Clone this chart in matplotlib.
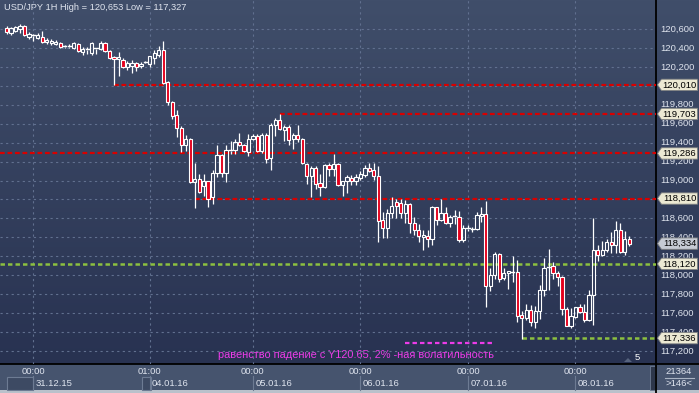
import numpy as np
import matplotlib
matplotlib.use("Agg")
import matplotlib.pyplot as plt
import matplotlib.transforms as mtransforms
from matplotlib.patches import Rectangle, Polygon

plt.rcParams['font.family'] = ['Liberation Sans', 'DejaVu Sans']
plt.rcParams['lines.scale_dashes'] = False

W, H = 699, 393

# hourly candles, USD/JPY
opens = [120.61, 120.56, 120.58, 120.60, 120.63, 120.52, 120.53, 120.51, 120.52, 120.46,
         120.45, 120.445, 120.45, 120.41, 120.415, 120.40, 120.44, 120.36, 120.38, 120.35,
         120.39, 120.39, 120.45, 120.37, 120.30, 120.28, 120.27, 120.20, 120.21, 120.24,
         120.21, 120.25, 120.23, 120.29, 120.33, 120.38, 120.04, 119.83, 119.69, 119.55,
         119.38, 119.44, 118.98, 119.02, 118.94, 118.99, 118.83, 119.08, 119.27, 119.08,
         119.31, 119.32, 119.41, 119.37, 119.30, 119.44, 119.47, 119.31, 119.48, 119.24,
         119.59, 119.64, 119.53, 119.56, 119.44, 119.48, 119.44, 119.17, 119.05, 119.13,
         118.97, 118.93, 119.16, 119.12, 119.17, 118.95, 118.99, 119.03, 118.99, 119.03,
         119.06, 119.13, 119.11, 119.05, 118.58, 118.50, 118.66, 118.77, 118.76, 118.66,
         118.75, 118.55, 118.48, 118.40, 118.41, 118.38, 118.72, 118.58, 118.66, 118.55,
         118.62, 118.61, 118.37, 118.49, 118.49, 118.49, 118.63, 118.65, 117.89, 118.00,
         118.22, 117.97, 118.02, 118.03, 118.03, 117.58, 117.55, 117.63, 117.51, 117.62,
         117.84, 118.09, 118.10, 118.02, 117.98, 117.64, 117.46, 117.56, 117.67, 117.61,
         117.53, 117.79, 118.27, 118.21, 118.27, 118.35, 118.32, 118.48, 118.25, 118.38]
highs = [120.63, 120.62, 120.63, 120.653, 120.64, 120.57, 120.55, 120.56, 120.58, 120.51,
         120.49, 120.48, 120.46, 120.43, 120.44, 120.46, 120.45, 120.41, 120.41, 120.46,
         120.40, 120.47, 120.46, 120.38, 120.31, 120.36, 120.29, 120.26, 120.27, 120.25,
         120.25, 120.26, 120.31, 120.38, 120.42, 120.47, 120.05, 119.84, 119.74, 119.58,
         119.48, 119.45, 119.18, 119.07, 119.07, 119.00, 119.11, 119.37, 119.28, 119.38,
         119.42, 119.44, 119.50, 119.39, 119.49, 119.49, 119.49, 119.50, 119.50, 119.61,
         119.66, 119.703, 119.59, 119.59, 119.50, 119.59, 119.45, 119.19, 119.15, 119.15,
         119.07, 119.17, 119.19, 119.28, 119.18, 119.00, 119.06, 119.06, 119.07, 119.10,
         119.16, 119.19, 119.19, 119.15, 118.67, 118.70, 118.83, 118.81, 118.80, 118.79,
         118.76, 118.62, 118.54, 118.48, 118.48, 118.73, 118.72, 118.80, 118.72, 118.64,
         118.69, 118.68, 118.53, 118.53, 118.51, 118.67, 118.72, 118.78, 118.08, 118.25,
         118.24, 118.08, 118.05, 118.20, 118.16, 117.62, 117.70, 117.69, 117.68, 117.90,
         118.18, 118.28, 118.14, 118.04, 117.99, 117.67, 117.65, 117.66, 117.70, 117.70,
         117.84, 118.60, 118.32, 118.36, 118.38, 118.46, 118.57, 118.55, 118.47, 118.41]
lows = [120.55, 120.54, 120.57, 120.56, 120.53, 120.49, 120.47, 120.49, 120.45, 120.44,
        120.43, 120.43, 120.40, 120.40, 120.40, 120.39, 120.36, 120.33, 120.34, 120.33,
        120.34, 120.38, 120.36, 120.28, 120.01, 120.10, 120.19, 120.17, 120.14, 120.16,
        120.19, 120.24, 120.20, 120.23, 120.30, 120.02, 119.80, 119.65, 119.46, 119.30,
        119.31, 118.97, 118.71, 118.87, 118.84, 118.72, 118.75, 119.04, 119.04, 118.98,
        119.28, 119.28, 119.36, 119.30, 119.26, 119.43, 119.30, 119.29, 119.18, 119.11,
        119.47, 119.53, 119.42, 119.38, 119.33, 119.41, 119.17, 118.96, 118.83, 118.91,
        118.84, 118.92, 119.05, 119.05, 118.94, 118.84, 118.87, 118.95, 118.95, 119.01,
        119.04, 119.09, 119.01, 118.35, 118.39, 118.39, 118.60, 118.60, 118.60, 118.55,
        118.45, 118.42, 118.35, 118.27, 118.30, 118.32, 118.53, 118.57, 118.54, 118.51,
        118.54, 118.35, 118.35, 118.47, 118.46, 118.48, 118.56, 117.67, 117.83, 117.96,
        117.93, 117.95, 117.86, 117.93, 117.51, 117.327, 117.53, 117.46, 117.44, 117.54,
        117.78, 117.84, 117.96, 117.89, 117.58, 117.46, 117.44, 117.55, 117.60, 117.51,
        117.52, 117.48, 118.15, 118.20, 118.25, 118.23, 118.24, 118.23, 118.21, 118.31]
closes = [120.57, 120.61, 120.62, 120.63, 120.54, 120.55, 120.54, 120.54, 120.46, 120.48,
          120.47, 120.46, 120.41, 120.42, 120.42, 120.45, 120.37, 120.39, 120.39, 120.45,
          120.40, 120.45, 120.37, 120.29, 120.28, 120.30, 120.20, 120.24, 120.24, 120.20,
          120.23, 120.25, 120.31, 120.35, 120.38, 120.03, 119.83, 119.68, 119.55, 119.38,
          119.44, 118.98, 119.02, 118.88, 118.99, 118.80, 119.08, 119.27, 119.08, 119.32,
          119.32, 119.41, 119.37, 119.31, 119.44, 119.47, 119.31, 119.48, 119.23, 119.59,
          119.64, 119.54, 119.57, 119.43, 119.48, 119.44, 119.18, 119.05, 119.13, 118.96,
          118.93, 119.16, 119.12, 119.17, 118.95, 118.99, 119.04, 118.99, 119.04, 119.07,
          119.13, 119.10, 119.05, 118.57, 118.50, 118.66, 118.73, 118.73, 118.66, 118.75,
          118.55, 118.48, 118.41, 118.42, 118.38, 118.72, 118.58, 118.66, 118.55, 118.62,
          118.63, 118.37, 118.50, 118.50, 118.49, 118.64, 118.65, 117.89, 118.00, 118.22,
          117.96, 118.02, 118.04, 118.03, 117.57, 117.55, 117.63, 117.51, 117.62, 117.84,
          118.08, 118.09, 118.02, 117.98, 117.64, 117.46, 117.57, 117.66, 117.61, 117.53,
          117.79, 118.27, 118.21, 118.27, 118.35, 118.32, 118.48, 118.25, 118.38, 118.334]

day_idx = [6, 32, 55, 79, 103, 127]
hour_labels = ['00:00', '01:00', '00:00', '00:00', '00:00', '00:00']
date_labels = ['31.12.15', '04.01.16', '05.01.16', '06.01.16', '07.01.16', '08.01.16']

price_ticks = [117.2, 117.4, 117.6, 117.8, 118.0, 118.2, 118.4, 118.6, 118.8,
               119.0, 119.2, 119.4, 119.6, 119.8, 120.0, 120.2, 120.4, 120.6]

levels = [120.010, 119.703, 119.286, 118.810, 118.120, 117.336]
level_start = [24, 61, None, 42, None, 115]
level_kind = ['red', 'red', 'red', 'red', 'green', 'green']
last_price = 118.334

title = 'USD/JPY 1H High = 120,653 Low = 117,327'
note = 'равенство падение с Y120.65, 2% -ная волатильность'

TXT = '#dfe4ee'
RED = '#d80000'
GREEN = '#8cc040'
MAG = '#ec3ce8'
GRID = '#61708f'
FS = 6.8

fig = plt.figure(figsize=(W / 100, H / 100), dpi=100)


def px_axes(x0, y0, x1, y1):
    return fig.add_axes([x0 / W, 1 - y1 / H, (x1 - x0) / W, (y1 - y0) / H])


# background layer in pixel coordinates
bg = px_axes(0, 0, W, H)
bg.set_xlim(0, W)
bg.set_ylim(H, 0)
bg.axis('off')
grad = np.linspace(0, 1, 256)[:, None, None]
top = np.array([64, 78, 106]) / 255
bot = np.array([40, 50, 81]) / 255
img = top * (1 - grad) + bot * grad
bg.imshow(img, extent=(0, W, 364, 0), aspect='auto', zorder=0)
bg.add_patch(Rectangle((0, 364), W, 29, facecolor='#46546e', edgecolor='none', zorder=1))
bg.add_patch(Rectangle((0, 390), W, 3, facecolor='#b9c1cb', edgecolor='none', zorder=2))
for x0, x1 in [(7, 33), (142, 151)]:
    bg.add_patch(Rectangle((x0, 377), x1 - x0, 13, facecolor='#3d4a63',
                           edgecolor='#6d7b93', lw=0.8, zorder=2))
bg.add_patch(Rectangle((650, 366), 5, 24, facecolor='#2d374b', edgecolor='#6d7b93', lw=0.6, zorder=2))
bg.plot([0, W], [364, 364], color='black', lw=1.3, zorder=3)
bg.plot([656, 656], [0, H], color='black', lw=1.3, zorder=3)
bg.plot([665, 694], [378, 378], color='#aab4c4', lw=0.8, zorder=3)
bg.text(679, 371.5, '21364', color=TXT, fontsize=FS, ha='center', va='center', zorder=4)
bg.text(679, 384, '>146<', color=TXT, fontsize=FS, ha='center', va='center', zorder=4)
bg.text(4, 8, title, color=TXT, fontsize=6.7, ha='left', va='center', zorder=4)
bg.text(356, 355, note, color=MAG, fontsize=7.9, ha='center', va='center', zorder=4)
bg.plot([405, 495], [343, 343], color=MAG, lw=1.6, dashes=(3.2, 2.2), zorder=4)
bg.add_patch(Polygon([(624, 362), (628, 358), (632, 362)], closed=True,
                     facecolor='#56637d', edgecolor='none', zorder=4))
bg.text(637, 357, '5', color='white', fontsize=FS, ha='center', va='center', zorder=4)

# main chart
ax = px_axes(0, 0, 656, 364)
ax.patch.set_alpha(0)
ax.set_xlim(-6.5 / 4.48, (656 - 6.5) / 4.48)
ax.set_ylim(117.063, 120.906)
for s in ax.spines.values():
    s.set_visible(False)
ax.set_xticks([])
ax.set_yticks([])

for p in price_ticks:
    ax.axhline(p, color=GRID, lw=0.8, dashes=(1.6, 2.4), zorder=1)
for d in day_idx:
    ax.axvline(d, color=GRID, lw=0.8, dashes=(1.6, 2.4), zorder=1)

xmax = ax.get_xlim()[1]
for lv, st, kind in zip(levels, level_start, level_kind):
    x0 = ax.get_xlim()[0] if st is None else st
    if kind == 'red':
        ax.plot([x0, xmax], [lv, lv], color=RED, lw=1.6, dashes=(3.4, 2.0), zorder=2)
    else:
        ax.plot([x0, xmax], [lv, lv], color=GREEN, lw=1.8, dashes=(3.2, 2.2), zorder=2)

bw = 0.72
for i, (o, h, l, c) in enumerate(zip(opens, highs, lows, closes)):
    hi_b, lo_b = max(o, c), min(o, c)
    ax.plot([i, i], [hi_b, h], color='white', lw=0.9, zorder=3, solid_capstyle='butt')
    ax.plot([i, i], [l, lo_b], color='white', lw=0.9, zorder=3, solid_capstyle='butt')
    if hi_b - lo_b < 0.012:
        ax.plot([i - bw / 2, i + bw / 2], [c, c], color='white', lw=1.0, zorder=4)
        continue
    face = '#e4001c' if c < o else 'none'
    ax.add_patch(Rectangle((i - bw / 2, lo_b), bw, hi_b - lo_b, facecolor=face,
                           edgecolor='white', lw=0.8, zorder=4))

# time axis labels
tr = mtransforms.blended_transform_factory(ax.transData, ax.transAxes)
for d, hl, dl in zip(day_idx, hour_labels, date_labels):
    ax.text(d, -8 / 364, hl, transform=tr, color=TXT, fontsize=FS,
            ha='center', va='center', clip_on=False)
    ax.text(d + 0.5, -20 / 364, dl, transform=tr, color=TXT, fontsize=FS,
            ha='left', va='center', clip_on=False)
    ax.plot([d, d], [-12 / 364, -26 / 364], transform=tr, color='#6d7b93',
            lw=0.8, clip_on=False)

# price axis
rax = px_axes(656, 0, 699, 364)
rax.patch.set_alpha(0)
rax.set_xlim(0, 43)
rax.set_ylim(ax.get_ylim())
rax.axis('off')
tags = levels + [last_price]
for p in price_ticks:
    # labels sitting right under a tag are hidden in the original
    if min(abs(p - t) for t in tags) < 0.03:
        continue
    rax.text(4, p, f'{p:,.3f}'.replace('.', ','), color=TXT, fontsize=FS,
             ha='left', va='center', zorder=2)

th = 0.06
for lv in tags:
    fc = '#c6cbd4' if lv == last_price else '#ece9d3'
    rax.add_patch(Polygon([(1.5, lv), (5.5, lv + th), (41.5, lv + th), (41.5, lv - th),
                           (5.5, lv - th)], closed=True, facecolor=fc,
                          edgecolor='#7d7f80', lw=0.6, zorder=5))
    rax.text(23.5, lv, f'{lv:.3f}'.replace('.', ','), color='black', fontsize=FS,
             ha='center', va='center', zorder=6)

fig.savefig('out.png', dpi=100)
